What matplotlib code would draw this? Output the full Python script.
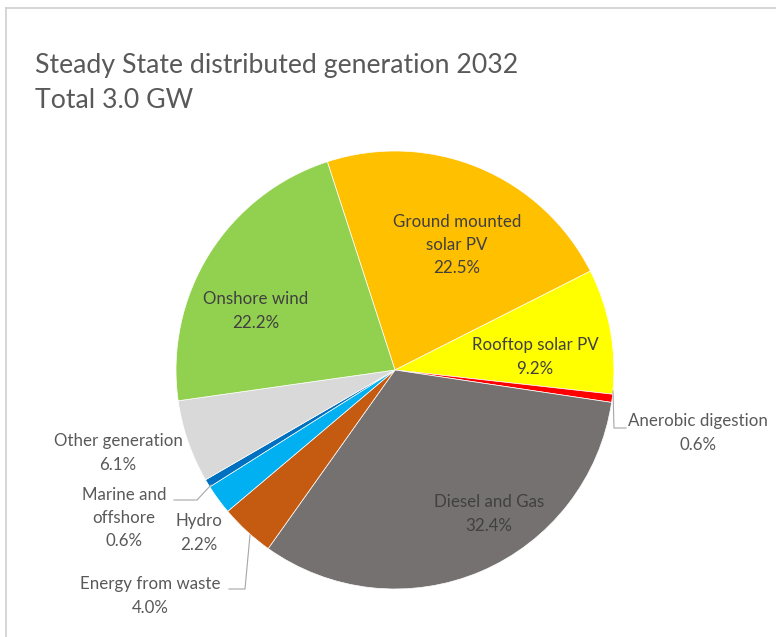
import matplotlib.pyplot as plt
import numpy as np

plt.rcParams['font.family'] = ['Lato', 'DejaVu Sans']

labels = ["Ground mounted\nsolar PV", "Rooftop solar PV", "Anerobic digestion",
          "Diesel and Gas", "Energy from waste", "Hydro", "Marine and\noffshore",
          "Other generation", "Onshore wind"]
shares = [22.5, 9.2, 0.6, 32.4, 4.0, 2.2, 0.6, 6.1, 22.2]
colors = ["#FFC000", "#FFFF00", "#FF0000", "#767171", "#C55A11", "#00B0F0",
          "#0070C0", "#D9D9D9", "#92D050"]

W, H = 776, 637
fig = plt.figure(figsize=(W / 100, H / 100), dpi=100)
ax = fig.add_axes([0, 0, 1, 1])

# chart border (top and left visible)
ax.plot([6, W + 5], [H - 7.5, H - 7.5], color="#d0d0d0", lw=1.2)
ax.plot([6, 6], [H - 7.5, -5], color="#d0d0d0", lw=1.2)

cx, cy, r = 395, H - 370, 219
wedges, _ = ax.pie(shares, colors=colors, startangle=108, counterclock=False,
                   center=(cx, cy), radius=r, frame=True,
                   wedgeprops=dict(edgecolor="white", linewidth=0.5))
ax.set_xlim(0, W)
ax.set_ylim(0, H)
ax.set_aspect('equal')
ax.axis('off')

ax.text(35, H - 66, "Steady State distributed generation 2032", fontsize=19.2,
        color="#595959", va="center", ha="left")
ax.text(35, H - 101, "Total 3.0 GW", fontsize=19.2, color="#595959",
        va="center", ha="left")

# label layout: (x, y in pixels from top, inside)
label_pos = [(457, 245, True), (535, 357, True), (698, 433, False),
             (489, 514, True), (150, 596, False), (199, 533, False),
             (124, 518, False), (118, 453, False), (256, 311, True)]

for lab, val, (lx, ly, inside) in zip(labels, shares, label_pos):
    col = "#404040" if inside else "#595959"
    ax.text(lx, H - ly, f"{lab}\n{val:.1f}%", ha="center", va="center",
            fontsize=12.2, color=col, linespacing=1.55)

# leader lines
lc = "#a6a6a6"
ax.plot([613, 614, 626], [H - 391, H - 428, H - 428], color=lc, lw=0.8)
ax.plot([211, 197, 174], [H - 485, H - 500, H - 500], color=lc, lw=0.8)
ax.plot([250, 245, 229], [H - 535, H - 589, H - 589], color=lc, lw=0.8)

fig.savefig("out.png", dpi=100)
